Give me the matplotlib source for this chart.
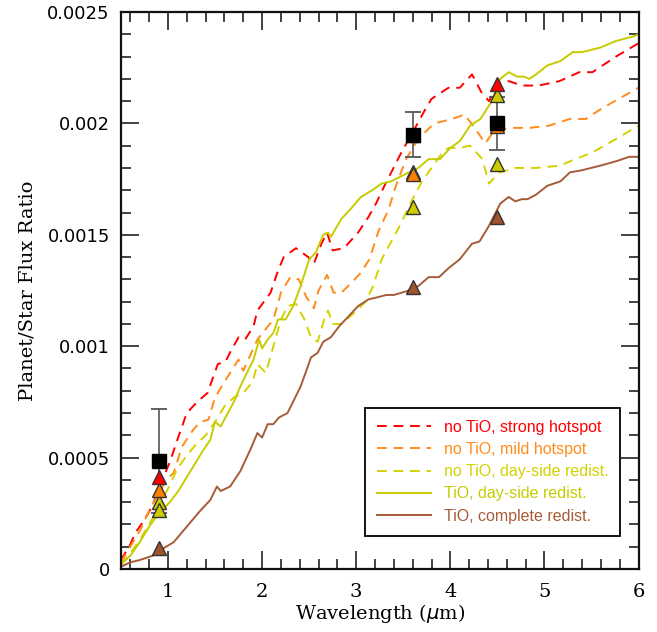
import numpy as np
import matplotlib
matplotlib.use("Agg")
import matplotlib.pyplot as plt
from matplotlib.ticker import MultipleLocator, FuncFormatter

# model spectra (wavelength in micron, planet/star flux ratio)
red_wl = [0.5, 0.6, 0.65, 0.75, 0.83, 0.92, 1.02, 1.1, 1.2, 1.31, 1.42, 1.53, 1.61, 1.67, 1.75,
          1.82, 1.91, 1.95, 2.09, 2.17, 2.23, 2.36, 2.49, 2.55, 2.63, 2.69, 2.75, 2.87, 3.02,
          3.13, 3.21, 3.3, 3.48, 3.6, 3.73, 3.8, 3.98, 4.1, 4.23, 4.33, 4.41, 4.52, 4.62, 4.76,
          4.94, 5.16, 5.37, 5.51, 5.76, 6.0]
red_fl = [0.00004, 0.00011, 0.00016, 0.00022, 0.00028, 0.00038, 0.00048, 0.00058, 0.0007, 0.00075,
          0.00079, 0.00092, 0.00093, 0.00098, 0.00104, 0.00103, 0.00109, 0.00116, 0.00124, 0.00134,
          0.0014, 0.00144, 0.0014, 0.00137, 0.00146, 0.00151, 0.00143, 0.00144, 0.00151, 0.00158,
          0.00164, 0.00172, 0.00187, 0.00196, 0.00206, 0.00211, 0.00216, 0.00216, 0.00222, 0.00214,
          0.0021, 0.00218, 0.00219, 0.00217, 0.00217, 0.00219, 0.00223, 0.00223, 0.0023, 0.00236]

orange_wl = [0.5, 0.6, 0.7, 0.8, 0.9, 1.0, 1.06, 1.15, 1.26, 1.34, 1.43, 1.5, 1.63, 1.75, 1.8,
             1.95, 2.12, 2.2, 2.3, 2.39, 2.47, 2.55, 2.6, 2.69, 2.76, 2.84, 2.94, 3.05, 3.14, 3.24,
             3.34, 3.43, 3.53, 3.63, 3.73, 3.83, 4.02, 4.15, 4.26, 4.37, 4.47, 4.66, 4.84, 5.05,
             5.27, 5.44, 5.62, 5.83, 6.0]
orange_fl = [0.00003, 0.0001, 0.00017, 0.00026, 0.00034, 0.00041, 0.00043, 0.00055, 0.00062,
             0.00066, 0.00067, 0.00077, 0.00086, 0.00094, 0.00089, 0.00103, 0.00112, 0.00124,
             0.00131, 0.0013, 0.00122, 0.00117, 0.00125, 0.00132, 0.00124, 0.00124, 0.00128,
             0.00133, 0.00139, 0.00152, 0.00161, 0.00173, 0.00184, 0.00191, 0.00196, 0.002,
             0.00202, 0.00204, 0.00198, 0.00191, 0.00197, 0.00198, 0.00198, 0.00199, 0.00202,
             0.00202, 0.00207, 0.00212, 0.00216]

dday_wl = [0.5, 0.6, 0.7, 0.8, 0.9, 1.0, 1.1, 1.2, 1.3, 1.4, 1.5, 1.6, 1.7, 1.8, 1.9, 1.95, 2.04,
           2.12, 2.2, 2.27, 2.36, 2.45, 2.52, 2.59, 2.66, 2.7, 2.75, 2.84, 2.98, 3.1, 3.18, 3.27,
           3.45, 3.61, 3.7, 3.8, 3.9, 3.98, 4.1, 4.21, 4.34, 4.41, 4.52, 4.69, 4.91, 5.16, 5.33,
           5.51, 5.76, 6.0]
dday_fl = [0.00002, 0.00007, 0.00013, 0.0002, 0.00028, 0.00036, 0.00045, 0.00051, 0.00056, 0.0006,
           0.00066, 0.00073, 0.00077, 0.00079, 0.00084, 0.00092, 0.00088, 0.001, 0.00112, 0.00118,
           0.00119, 0.00112, 0.00104, 0.00102, 0.00112, 0.00116, 0.0011, 0.0011, 0.00115, 0.0012,
           0.00127, 0.00139, 0.00153, 0.00167, 0.00174, 0.0018, 0.00186, 0.00189, 0.00189, 0.0019,
           0.00184, 0.00173, 0.00178, 0.0018, 0.0018, 0.00181, 0.00184, 0.00187, 0.00193, 0.00199]

tio_wl = [0.5, 0.6, 0.7, 0.8, 0.9, 0.95, 1.02, 1.11, 1.24, 1.37, 1.45, 1.5, 1.56, 1.7, 1.77, 1.85,
          1.91, 1.97, 2.0, 2.06, 2.12, 2.17, 2.25, 2.33, 2.41, 2.5, 2.57, 2.65, 2.7, 2.73, 2.84,
          2.95, 3.05, 3.17, 3.27, 3.37, 3.56, 3.66, 3.77, 3.89, 4.0, 4.1, 4.21, 4.32, 4.44, 4.53,
          4.62, 4.71, 4.78, 4.84, 4.91, 5.03, 5.17, 5.3, 5.4, 5.59, 5.76, 5.94, 6.0]
tio_fl = [0.00002, 0.00006, 0.00012, 0.00019, 0.00025, 0.00027, 0.0003, 0.00035, 0.00044, 0.00053,
          0.00058, 0.00066, 0.00064, 0.00075, 0.00082, 0.00089, 0.00094, 0.00103, 0.00099, 0.00103,
          0.00106, 0.00112, 0.00112, 0.00118, 0.00127, 0.00139, 0.00142, 0.0015, 0.00151, 0.00149,
          0.00157, 0.00162, 0.00167, 0.0017, 0.00173, 0.00174, 0.00178, 0.0018, 0.00184, 0.00184,
          0.00189, 0.00192, 0.00199, 0.00202, 0.0021, 0.0022, 0.00223, 0.00221, 0.00221, 0.0022,
          0.00222, 0.00226, 0.00228, 0.00232, 0.00232, 0.00234, 0.00237, 0.00239, 0.0024]

brown_wl = [0.5, 0.6, 0.7, 0.84, 0.94, 1.06, 1.2, 1.34, 1.45, 1.52, 1.56, 1.66, 1.77, 1.88, 1.95,
            2.0, 2.06, 2.12, 2.18, 2.27, 2.34, 2.41, 2.47, 2.52, 2.59, 2.65, 2.73, 2.82, 2.91,
            3.02, 3.13, 3.23, 3.32, 3.4, 3.48, 3.56, 3.66, 3.77, 3.88, 3.98, 4.1, 4.23, 4.31,
            4.41, 4.53, 4.62, 4.69, 4.76, 4.82, 4.91, 5.03, 5.17, 5.27, 5.4, 5.59, 5.76, 5.9, 6.0]
brown_fl = [0.00001, 0.00003, 0.00004, 0.00006, 0.00009, 0.00012, 0.00019, 0.00026, 0.00031,
            0.00037, 0.00035, 0.00037, 0.00044, 0.00054, 0.00061, 0.00059, 0.00065, 0.00065,
            0.00068, 0.0007, 0.00076, 0.00082, 0.00089, 0.00095, 0.00097, 0.00102, 0.00104,
            0.00109, 0.00113, 0.00118, 0.00121, 0.00122, 0.00123, 0.00123, 0.00124, 0.00125,
            0.00127, 0.00131, 0.00131, 0.00135, 0.00139, 0.00146, 0.00147, 0.00154, 0.00164,
            0.00167, 0.00165, 0.00166, 0.00166, 0.00168, 0.00172, 0.00174, 0.00178, 0.00179,
            0.00181, 0.00183, 0.00185, 0.00185]

# band-integrated model points
band_wl = [0.91, 3.6, 4.5]
red_band = [0.000413, 0.00195, 0.002177]
orange_band = [0.000355, 0.001773, 0.00199]
dday_band = [0.000301, 0.001625, 0.001818]
tio_band = [0.000265, 0.001782, 0.002128]
brown_band = [0.000094, 0.001266, 0.00158]

# observations
obs_wl = [0.91, 3.6, 4.5]
obs_fl = [0.000485, 0.00195, 0.002]
obs_err = [0.000235, 0.0001, 0.00012]

c_red = "#ff0000"
c_orange = "#ff8c1a"
c_dday = "#d2d200"
c_tio = "#c6cc00"
c_brown = "#a65c38"

fig = plt.figure(figsize=(6.57, 6.32), dpi=100)
ax = fig.add_axes([0.184, 0.0997, 0.788, 0.8813])

lw = 1.4
dash = (5, 3.5)
ax.plot(red_wl, red_fl, color=c_red, lw=lw, dashes=dash, label="no TiO, strong hotspot")
ax.plot(orange_wl, orange_fl, color=c_orange, lw=lw, dashes=dash, label="no TiO, mild hotspot")
ax.plot(dday_wl, dday_fl, color=c_dday, lw=lw, dashes=dash, label="no TiO, day-side redist.")
ax.plot(tio_wl, tio_fl, color=c_tio, lw=lw, label="TiO, day-side redist.")
ax.plot(brown_wl, brown_fl, color=c_brown, lw=lw, label="TiO, complete redist.")

ax.errorbar(obs_wl, obs_fl, yerr=obs_err, fmt="none", ecolor="#555555", elinewidth=1.2,
            capsize=6, capthick=1.3, zorder=3)

for vals, col in [(brown_band, "#a0522d"), (dday_band, "#cccc00"), (tio_band, "#cccc00"),
                  (orange_band, "#ff8000"), (red_band, "#ff0000")]:
    ax.plot(band_wl, vals, ls="none", marker="^", ms=10, mfc=col, mec="#333333", mew=1.0,
            zorder=4)

ax.plot(obs_wl, obs_fl, ls="none", marker="s", ms=9.5, mfc="black", mec="black", zorder=5)

ax.set_xlim(0.5, 6)
ax.set_ylim(0, 0.0025)
ax.xaxis.set_major_locator(MultipleLocator(1))
ax.xaxis.set_minor_locator(MultipleLocator(0.2))
ax.yaxis.set_major_locator(MultipleLocator(0.0005))
ax.yaxis.set_minor_locator(MultipleLocator(0.0001))
ax.yaxis.set_major_formatter(FuncFormatter(lambda v, p: "0" if v == 0 else f"{v:g}"))
ax.tick_params(which="both", direction="in", top=True, right=True, width=1.2, color="#222222")
ax.tick_params(which="major", length=13)
ax.tick_params(which="minor", length=7)
ax.tick_params(axis="x", pad=10)
ax.tick_params(axis="y", pad=8)
for lab in ax.get_xticklabels():
    lab.set_fontfamily("DejaVu Serif")
    lab.set_fontsize(14)
for lab in ax.get_yticklabels():
    lab.set_fontfamily("DejaVu Sans")
    lab.set_fontsize(13)
for sp in ax.spines.values():
    sp.set_linewidth(1.6)
    sp.set_color("#111111")

ax.set_xlabel(r"Wavelength ($\mu$m)", family="DejaVu Serif", fontsize=14, labelpad=1)
ax.set_ylabel("Planet/Star Flux Ratio", family="DejaVu Serif", fontsize=14, labelpad=8)

leg = ax.legend(loc="lower right", bbox_to_anchor=(0.965, 0.06), frameon=True, fancybox=False,
                framealpha=1, edgecolor="black", prop={"family": "Liberation Sans", "size": 11.5},
                handlelength=3.4, handletextpad=0.8, borderpad=0.75, labelspacing=0.45,
                borderaxespad=0)
leg.get_frame().set_linewidth(1.3)
for txt, line in zip(leg.get_texts(), leg.get_lines()):
    txt.set_color(line.get_color())

fig.savefig("out.png", dpi=100)
